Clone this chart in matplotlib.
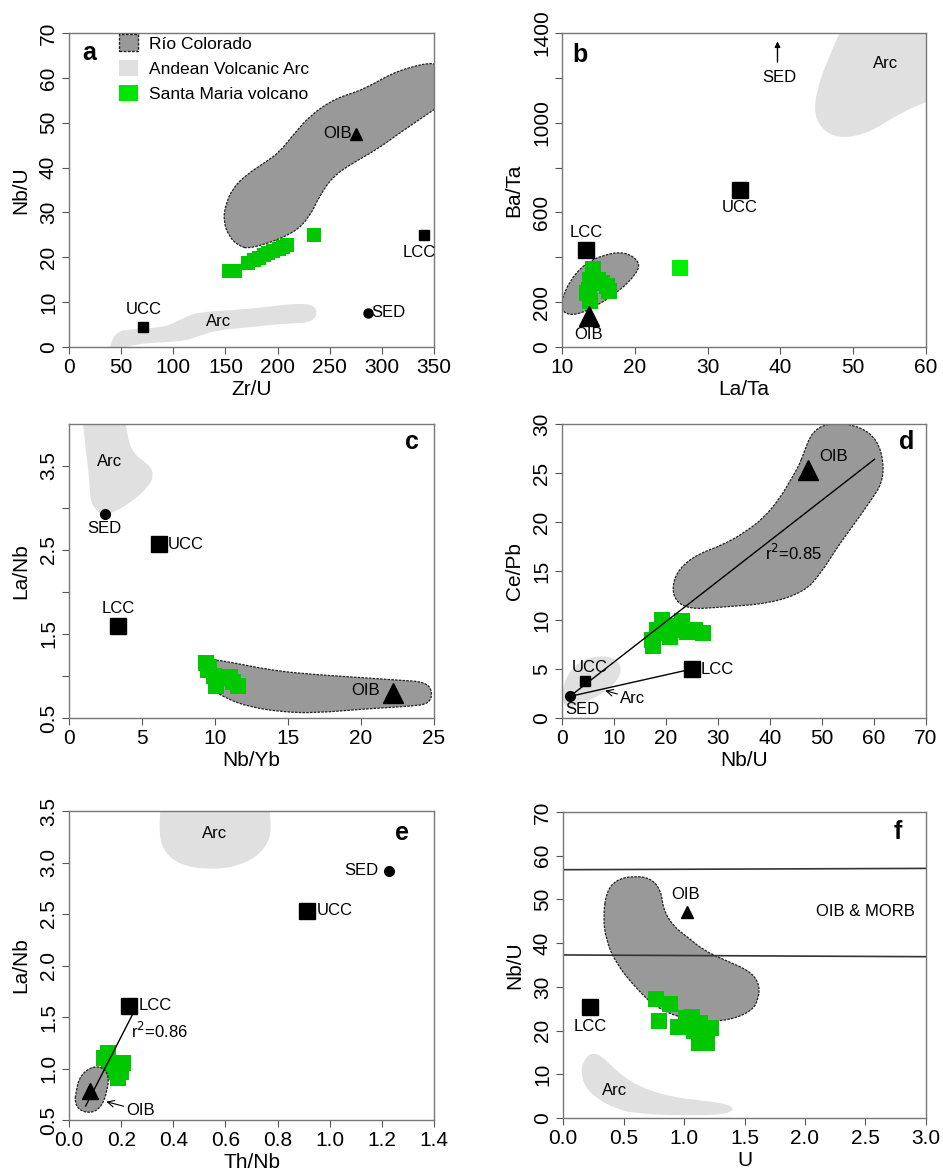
import numpy as np
import matplotlib
matplotlib.use('Agg')
import matplotlib.pyplot as plt
from matplotlib.patches import PathPatch, Patch
from matplotlib.path import Path

plt.rcParams['font.family'] = ['Liberation Sans', 'DejaVu Sans']

# Colores
GREEN = '#00c800'
GREEN2 = '#00f000'
RIO = '#999999'
ARC = '#e0e0e0'

# ---------------- a: Zr/U vs Nb/U ----------------
a_sm_x = [153, 159, 172, 177, 182, 187, 191, 196, 201, 205, 209, 235]
a_sm_y = [17.0, 17.0, 18.8, 19.3, 19.8, 20.4, 21.0, 21.5, 21.8, 22.4, 22.8, 25.0]
a_rio_x = [174, 215, 231, 240, 253, 272, 295, 317, 336, 362, 362, 317, 282, 256, 232, 215, 202, 189, 170, 157, 150, 148, 153, 162]
a_rio_y = [21.8, 25.2, 29.1, 33.6, 38.0, 41.0, 44.0, 47.7, 50.7, 54.8, 64.0, 62.0, 57.3, 55.5, 51.8, 47.3, 43.5, 41.3, 38.4, 35.4, 31.6, 28.2, 24.8, 22.6]
a_arc_x = [38, 44, 61, 93, 112.5, 125, 157, 189, 221, 236, 238, 231, 205, 173, 141, 125, 112.5, 93, 61, 45]
a_arc_y = [-1, 3.4, 4.0, 4.4, 6.8, 7.8, 8.2, 8.9, 9.8, 9.2, 7.0, 5.4, 5.2, 4.4, 3.7, 2.5, 1.4, 1.1, 0.6, -1]
a_ucc = (71.3, 4.5)
a_lcc = (340.4, 25.0)
a_sed = (286.7, 7.6)
a_oib = (275.5, 47.5)

# ---------------- b: La/Ta vs Ba/Ta ----------------
b_sm_x = [14.3, 13.7, 13.9, 16.2, 16.4, 15.5, 13.4, 15.0, 13.9, 26.2]
b_sm_y = [348, 256, 204, 270, 248, 285, 241, 300, 300, 351]
b_rio_x = [10.0, 11.0, 13.0, 15.7, 18.7, 20.7, 20.3, 18.0, 14.8, 12.0, 10.2, 9.7]
b_rio_y = [210, 292, 368, 412, 425, 380, 330, 252, 184, 142, 150, 196]
b_arc_x = [49.5, 46.6, 45.0, 44.6, 46.2, 48.7, 52.4, 56.5, 61.0, 64.0, 64.0]
b_arc_y = [1500, 1290, 1150, 1030, 955, 930, 958, 1045, 1105, 1140, 1500]
b_lcc = (13.35, 431)
b_ucc = (34.4, 701)
b_oib = (13.7, 140)

# ---------------- c: Nb/Yb vs La/Nb ----------------
c_sm_x = [9.4, 9.5, 9.9, 10.3, 11.0, 11.6, 10.1, 9.6, 11.2]
c_sm_y = [1.15, 1.07, 1.00, 0.98, 0.99, 0.88, 0.88, 1.11, 0.93]
c_rio_x = [9.75, 11.2, 13.5, 15.8, 19.2, 22.6, 24.4, 24.9, 24.7, 23.4, 20.4, 16.9, 14.7, 12.4, 10.8, 9.8, 9.4, 9.5]
c_rio_y = [1.20, 1.16, 1.08, 1.03, 0.99, 0.95, 0.93, 0.82, 0.67, 0.64, 0.61, 0.56, 0.57, 0.63, 0.73, 0.84, 0.94, 1.12]
c_arc_x = [0.8, 1.15, 1.40, 1.44, 1.74, 2.33, 3.24, 4.42, 5.48, 5.78, 5.6, 4.42, 3.98, 3.75]
c_arc_y = [4.25, 3.69, 3.33, 3.11, 2.99, 2.91, 2.96, 3.09, 3.26, 3.38, 3.50, 3.64, 3.85, 4.25]
c_sed = (2.44, 2.93)
c_ucc = (6.14, 2.57)
c_lcc = (3.36, 1.60)
c_oib = (22.2, 0.80)

# ---------------- d: Nb/U vs Ce/Pb ----------------
d_sm_x = [17.3, 17.5, 19.2, 19.9, 20.8, 21.8, 23.1, 24.0, 25.6, 27.2, 18.3, 20.2]
d_sm_y = [8.0, 7.3, 10.0, 8.7, 8.3, 9.0, 9.9, 8.8, 9.0, 8.7, 9.0, 9.4]
d_rio_x = [46.4, 48.2, 52.2, 57.6, 60.7, 61.9, 61.5, 59.4, 56.2, 52.9, 49.7, 46.6, 40.1, 30.4, 24.5, 21.7, 21.2, 22.6, 26.0, 31.1, 35.0, 38.8, 42.0, 44.2, 45.6]
d_rio_y = [26.9, 29.4, 30.2, 29.7, 28.3, 26.0, 23.9, 22.2, 19.8, 17.4, 14.7, 12.9, 11.7, 11.3, 11.1, 12.0, 13.6, 15.3, 16.7, 17.7, 18.9, 20.4, 22.5, 24.5, 25.8]
d_arc_x = [0.0, 1.4, 4.2, 8.0, 10.9, 11.5, 9.5, 5.4, 2.0, 0.2]
d_arc_y = [2.9, 4.8, 6.0, 6.4, 5.9, 4.6, 3.1, 1.8, 1.0, 1.3]
d_sed = (1.5, 2.2)
d_ucc = (4.5, 3.74)
d_lcc = (25.0, 5.0)
d_oib = (47.3, 25.3)
d_fit_end = (60.1, 26.4)

# ---------------- e: Th/Nb vs La/Nb ----------------
e_sm_x = [0.149, 0.136, 0.207, 0.175, 0.188, 0.117, 0.155, 0.200]
e_sm_y = [1.147, 1.10, 1.05, 1.02, 0.905, 0.937, 0.97, 0.97]
e_rio_x = [0.026, 0.038, 0.079, 0.126, 0.153, 0.147, 0.126, 0.086, 0.038, 0.022]
e_rio_y = [0.75, 0.91, 1.01, 1.02, 0.93, 0.79, 0.63, 0.565, 0.595, 0.68]
e_arc_x = [0.36, 0.342, 0.370, 0.436, 0.526, 0.628, 0.720, 0.772, 0.775, 0.755]
e_arc_y = [3.75, 3.28, 3.08, 2.97, 2.935, 2.95, 3.05, 3.22, 3.43, 3.75]
e_sed = (1.228, 2.92)
e_ucc = (0.911, 2.53)
e_lcc = (0.232, 1.607)
e_oib = (0.082, 0.785)
e_fit = ([0.064, 0.251], [0.636, 1.561])

# ---------------- f: U vs Nb/U ----------------
f_sm_x = [0.77, 0.886, 0.79, 0.947, 1.018, 1.065, 1.134, 1.222, 1.16, 1.19, 1.12, 1.08, 1.19]
f_sm_y = [27.2, 26.1, 22.1, 20.9, 22.8, 23.2, 21.7, 20.5, 19.4, 17.1, 17.1, 19.8, 18.5]
f_rio_x = [0.36, 0.44, 0.584, 0.73, 0.81, 0.83, 0.914, 1.024, 1.16, 1.33, 1.54, 1.62, 1.62, 1.56, 1.327, 1.024, 0.77, 0.60, 0.44, 0.355, 0.332]
f_rio_y = [51.8, 54.5, 55.4, 54.8, 52.0, 47.6, 43.8, 41.5, 38.4, 36.2, 33.7, 30.9, 27.6, 24.3, 22.0, 22.4, 25.2, 29.8, 35.3, 40.7, 46.2]
f_arc_x = [0.165, 0.226, 0.315, 0.450, 0.61, 0.886, 1.16, 1.36, 1.42, 1.33, 1.02, 0.61, 0.44, 0.275, 0.18, 0.15]
f_arc_y = [12.9, 14.9, 14.4, 10.5, 7.4, 4.8, 4.0, 3.2, 1.9, 0.8, 0.55, 0.95, 2.1, 4.5, 7.2, 10.4]
f_oib = (1.024, 47.2)
f_lcc = (0.226, 25.3)
f_line_hi = ([0, 3], [56.8, 57.1])
f_line_lo = ([0, 3], [37.3, 36.9])

W, H = 943, 1173
fig = plt.figure(figsize=(W / 100, H / 100), dpi=100)


def make_ax(l, r, t, b):
    return fig.add_axes([l / W, 1 - b / H, (r - l) / W, (b - t) / H])


def style(ax, xlim, ylim, xt, yt, ylab_txt, xlabel, ylabel, xlab_txt=None):
    ax.set_xlim(xlim)
    ax.set_ylim(ylim)
    ax.set_xticks(xt)
    ax.set_xticklabels(xlab_txt if xlab_txt else [str(v) for v in xt], fontsize=15)
    ax.set_yticks(yt)
    ax.set_yticklabels(ylab_txt, fontsize=15, rotation=90, va='center')
    ax.tick_params(direction='out', length=5, color='#555555', width=0.8, pad=3)
    for s in ax.spines.values():
        s.set_color('#777777')
        s.set_linewidth(1.0)
    ax.set_xlabel(xlabel, fontsize=15, labelpad=2)
    ax.set_ylabel(ylabel, fontsize=15, labelpad=6)


def region(ax, xs, ys, color, edge=True, z=1):
    # contorno suave (bezier cuadratico cerrado)
    P = np.column_stack([xs, ys]).astype(float)
    mids = (P + np.roll(P, -1, axis=0)) / 2
    verts = [mids[-1]]
    codes = [Path.MOVETO]
    for i in range(len(P)):
        verts += [P[i], mids[i]]
        codes += [Path.CURVE3, Path.CURVE3]
    verts.append(mids[-1])
    codes.append(Path.CLOSEPOLY)
    path = Path(verts, codes)
    if edge:
        p = PathPatch(path, facecolor=color, edgecolor='#222222',
                      linestyle=(0, (2, 1)), linewidth=0.9, zorder=z)
    else:
        p = PathPatch(path, facecolor=color, edgecolor='none', zorder=z)
    ax.add_patch(p)


def letter(ax, x, y, s):
    ax.text(x, y, s, transform=ax.transAxes, fontsize=18, fontweight='bold',
            ha='center', va='center')


FS = 12

# ---- a ----
ax = make_ax(69, 434, 33, 347)
region(ax, a_arc_x, a_arc_y, ARC, edge=False)
region(ax, a_rio_x, a_rio_y, RIO)
ax.plot(a_sm_x, a_sm_y, 's', color=GREEN, ms=9.5, mew=0, zorder=3)
ax.plot(*a_ucc, 's', color='k', ms=7.5, zorder=4)
ax.plot(*a_lcc, 's', color='k', ms=7.5, zorder=4)
ax.plot(*a_sed, 'o', color='k', ms=6.5, zorder=4)
ax.plot(*a_oib, '^', color='k', ms=8, zorder=4)
ax.text(a_ucc[0], a_ucc[1] + 2.2, 'UCC', fontsize=FS, ha='center', va='bottom')
ax.text(a_lcc[0] - 5, a_lcc[1] - 2.2, 'LCC', fontsize=FS, ha='center', va='top')
ax.text(a_sed[0] + 3, a_sed[1], 'SED', fontsize=FS, ha='left', va='center')
ax.text(a_oib[0] - 4, a_oib[1], 'OIB', fontsize=FS, ha='right', va='center')
ax.text(143, 5.7, 'Arc', fontsize=FS, ha='center', va='center')
style(ax, (0, 350), (0, 70), range(0, 351, 50), range(0, 71, 10),
      [str(v) for v in range(0, 71, 10)], 'Zr/U', 'Nb/U')
handles = [Patch(facecolor=RIO, edgecolor='#222222', linestyle=(0, (2, 1))),
           Patch(facecolor=ARC, edgecolor='none'),
           Patch(facecolor='#00e600', edgecolor='none')]
ax.legend(handles, ['Río Colorado', 'Andean Volcanic Arc', 'Santa Maria volcano'],
          loc='upper left', bbox_to_anchor=(0.095, 1.045), frameon=False, fontsize=12.5,
          handlelength=1.1, handleheight=1.1, labelspacing=0.45, handletextpad=0.6)
letter(ax, 0.055, 0.935, 'a')

# ---- b ----
ax = make_ax(562, 926, 33, 347)
region(ax, b_arc_x, b_arc_y, ARC, edge=False)
region(ax, b_rio_x, b_rio_y, RIO)
ax.plot(b_sm_x[:-1], b_sm_y[:-1], 's', color=GREEN, ms=12, mew=0, zorder=3)
ax.plot(b_sm_x[-1], b_sm_y[-1], 's', color=GREEN2, ms=12, mew=0, zorder=3)
ax.plot(*b_lcc, 's', color='k', ms=11, zorder=4)
ax.plot(*b_ucc, 's', color='k', ms=11, zorder=4)
ax.plot(*b_oib, '^', color='k', ms=15, zorder=4)
ax.text(b_lcc[0], b_lcc[1] + 45, 'LCC', fontsize=FS, ha='center', va='bottom')
ax.text(b_ucc[0], b_ucc[1] - 45, 'UCC', fontsize=FS, ha='center', va='top')
ax.text(b_oib[0], b_oib[1] - 50, 'OIB', fontsize=FS, ha='center', va='top')
ax.annotate('', xy=(39.6, 1375), xytext=(39.6, 1258),
            arrowprops=dict(arrowstyle='-|>', color='k', lw=1, mutation_scale=8))
ax.text(39.8, 1202, 'SED', fontsize=FS, ha='center', va='center')
ax.text(54.4, 1266, 'Arc', fontsize=FS, ha='center', va='center')
style(ax, (10, 60), (0, 1400), range(10, 61, 10), range(0, 1401, 200),
      ['0', '200', '', '600', '', '1000', '', '1400'], 'La/Ta', 'Ba/Ta')
letter(ax, 0.05, 0.93, 'b')

# ---- c ----
ax = make_ax(69, 434, 424, 718)
region(ax, c_arc_x, c_arc_y, ARC, edge=False)
region(ax, c_rio_x, c_rio_y, RIO)
ax.plot(c_sm_x, c_sm_y, 's', color=GREEN, ms=12, mew=0, zorder=3)
ax.plot(*c_sed, 'o', color='k', ms=7, zorder=4)
ax.plot(*c_ucc, 's', color='k', ms=11, zorder=4)
ax.plot(*c_lcc, 's', color='k', ms=11, zorder=4)
ax.plot(*c_oib, '^', color='k', ms=15, zorder=4)
ax.text(c_sed[0], c_sed[1] - 0.08, 'SED', fontsize=FS, ha='center', va='top')
ax.text(c_ucc[0] + 0.6, c_ucc[1], 'UCC', fontsize=FS, ha='left', va='center')
ax.text(c_lcc[0], c_lcc[1] + 0.12, 'LCC', fontsize=FS, ha='center', va='bottom')
ax.text(c_oib[0] - 0.9, c_oib[1] + 0.03, 'OIB', fontsize=FS, ha='right', va='center')
ax.text(2.79, 3.55, 'Arc', fontsize=FS, ha='center', va='center')
style(ax, (0, 25), (0.5, 4.0), range(0, 26, 5), [0.5, 1.0, 1.5, 2.0, 2.5, 3.0, 3.5],
      ['0.5', '', '1.5', '', '2.5', '', '3.5'], 'Nb/Yb', 'La/Nb')
letter(ax, 0.94, 0.94, 'c')

# ---- d ----
ax = make_ax(562, 926, 424, 718)
region(ax, d_arc_x, d_arc_y, ARC, edge=False)
region(ax, d_rio_x, d_rio_y, RIO)
ax.plot(d_sm_x, d_sm_y, 's', color=GREEN, ms=12, mew=0, zorder=3)
ax.plot([d_sed[0], d_fit_end[0]], [d_sed[1], d_fit_end[1]], '-', color='k', lw=1, zorder=4)
ax.plot([d_sed[0], d_lcc[0]], [d_sed[1], d_lcc[1]], '-', color='k', lw=1, zorder=4)
ax.plot(*d_sed, 'o', color='k', ms=7, zorder=5)
ax.plot(*d_ucc, 's', color='k', ms=7, zorder=5)
ax.plot(*d_lcc, 's', color='k', ms=11, zorder=5)
ax.plot(*d_oib, '^', color='k', ms=15, zorder=5)
ax.text(d_ucc[0] + 0.8, d_ucc[1] + 0.6, 'UCC', fontsize=FS, ha='center', va='bottom')
ax.text(d_lcc[0] + 1.6, d_lcc[1], 'LCC', fontsize=FS, ha='left', va='center')
ax.text(d_sed[0] + 2.4, d_sed[1] - 0.6, 'SED', fontsize=FS, ha='center', va='top')
ax.text(52.2, 26.7, 'OIB', fontsize=FS, ha='center', va='center')
ax.annotate('Arc', xy=(8.3, 2.8), xytext=(11.2, 2.0), fontsize=FS, va='center', ha='left',
            arrowprops=dict(arrowstyle='->', color='k', lw=0.8, shrinkA=0, shrinkB=0))
ax.text(44.5, 16.8, 'r$^2$=0.85', fontsize=FS, ha='center', va='center')
style(ax, (0, 70), (0, 30), range(0, 71, 10), range(0, 31, 5),
      [str(v) for v in range(0, 31, 5)], 'Nb/U', 'Ce/Pb')
letter(ax, 0.948, 0.94, 'd')

# ---- e ----
ax = make_ax(69, 434, 811, 1120)
region(ax, e_arc_x, e_arc_y, ARC, edge=False)
ax.plot(e_sm_x, e_sm_y, 's', color=GREEN, ms=12, mew=0, zorder=2)
region(ax, e_rio_x, e_rio_y, RIO, z=3)
ax.plot(e_fit[0], e_fit[1], '-', color='k', lw=1, zorder=4)
ax.plot(*e_sed, 'o', color='k', ms=7, zorder=5)
ax.plot(*e_ucc, 's', color='k', ms=11, zorder=5)
ax.plot(*e_lcc, 's', color='k', ms=11, zorder=5)
ax.plot(*e_oib, '^', color='k', ms=11, zorder=5)
ax.text(e_sed[0] - 0.04, e_sed[1], 'SED', fontsize=FS, ha='right', va='center')
ax.text(e_ucc[0] + 0.04, e_ucc[1], 'UCC', fontsize=FS, ha='left', va='center')
ax.text(e_lcc[0] + 0.035, e_lcc[1], 'LCC', fontsize=FS, ha='left', va='center')
ax.text(0.347, 1.364, 'r$^2$=0.86', fontsize=FS, ha='center', va='center')
ax.annotate('OIB', xy=(0.143, 0.678), xytext=(0.22, 0.59), fontsize=FS, va='center', ha='left',
            arrowprops=dict(arrowstyle='->', color='k', lw=0.8, shrinkA=0, shrinkB=0))
ax.text(0.558, 3.28, 'Arc', fontsize=FS, ha='center', va='center')
ex = [0.0, 0.2, 0.4, 0.6, 0.8, 1.0, 1.2, 1.4]
ey = [0.5, 1.0, 1.5, 2.0, 2.5, 3.0, 3.5]
style(ax, (0, 1.4), (0.5, 3.5), ex, ey, ['%.1f' % v for v in ey], 'Th/Nb', 'La/Nb',
      xlab_txt=['%.1f' % v for v in ex])
letter(ax, 0.913, 0.928, 'e')

# ---- f ----
ax = make_ax(563, 926, 812, 1118)
region(ax, f_arc_x, f_arc_y, ARC, edge=False)
region(ax, f_rio_x, f_rio_y, RIO)
ax.plot(f_sm_x, f_sm_y, 's', color=GREEN, ms=12, mew=0, zorder=3)
ax.plot(*f_line_hi, '-', color='#333333', lw=1.2, zorder=2)
ax.plot(*f_line_lo, '-', color='#333333', lw=1.2, zorder=2)
ax.plot(*f_oib, '^', color='k', ms=9, zorder=5)
ax.plot(*f_lcc, 's', color='k', ms=11, zorder=5)
ax.text(f_oib[0] - 0.01, 51.1, 'OIB', fontsize=FS, ha='center', va='center')
ax.text(f_lcc[0], 20.9, 'LCC', fontsize=FS, ha='center', va='center')
ax.text(2.497, 47.2, 'OIB & MORB', fontsize=FS, ha='center', va='center')
ax.text(0.424, 6.3, 'Arc', fontsize=FS, ha='center', va='center')
fx = [0.0, 0.5, 1.0, 1.5, 2.0, 2.5, 3.0]
style(ax, (0, 3), (0, 70), fx, range(0, 71, 10), [str(v) for v in range(0, 71, 10)],
      'U', 'Nb/U', xlab_txt=['%.1f' % v for v in fx])
letter(ax, 0.921, 0.935, 'f')

fig.savefig('out.png', dpi=100)
